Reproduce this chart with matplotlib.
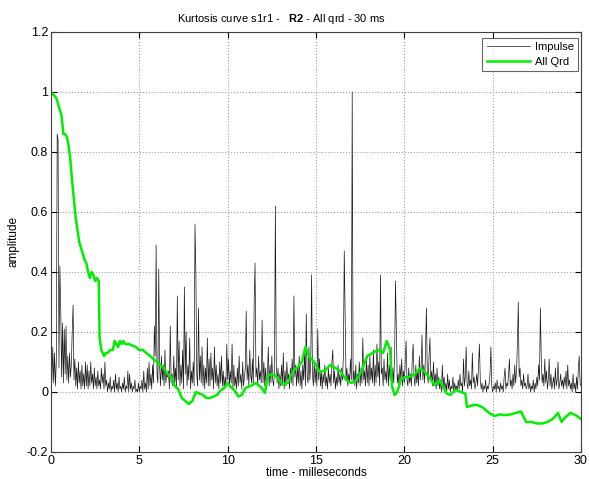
import numpy as np
import matplotlib
matplotlib.use("Agg")
import matplotlib.pyplot as plt

plt.rcParams['font.family'] = ['Liberation Sans', 'DejaVu Sans']
plt.rcParams['mathtext.fontset'] = 'custom'
plt.rcParams['mathtext.rm'] = 'Liberation Sans'
plt.rcParams['mathtext.bf'] = 'Liberation Sans:bold'

# Impulse amplitude in hundredths, sampled every 0.05 ms (one row per ms)
impulse_pct = [
    14, 4, 15, 3, 13, 2, 10, 86, 84, 8, 42, 28, 5, 23, 3, 21, 6, 22, 4, 12,
    3, 13, 5, 9, 20, 29, 4, 11, 2, 8, 1, 10, 3, 7, 1, 9, 2, 6, 1, 10,
    2, 9, 1, 7, 2, 10, 3, 6, 1, 8, 2, 5, 1, 7, 2, 4, 1, 8, 3, 6,
    1, 10, 2, 4, 0, 3, 1, 5, 0, 2, 1, 4, 0, 6, 1, 3, 0, 5, 1, 2,
    0, 3, 1, 5, 0, 2, 1, 7, 0, 6, 1, 3, 0, 2, 1, 4, 0, 1, 0, 3,
    0, 2, 1, 4, 0, 7, 1, 3, 0, 8, 1, 10, 2, 6, 1, 9, 3, 22, 12, 49,
    6, 3, 41, 8, 2, 12, 4, 9, 2, 14, 3, 6, 5, 7, 1, 22, 3, 6, 2, 12,
    3, 8, 1, 32, 4, 17, 2, 9, 3, 14, 1, 35, 6, 20, 2, 9, 4, 18, 1, 7,
    3, 10, 2, 56, 40, 6, 2, 28, 4, 12, 3, 15, 2, 9, 1, 8, 3, 18, 2, 11,
    2, 13, 4, 8, 1, 15, 3, 9, 2, 6, 1, 10, 3, 12, 2, 7, 1, 5, 2, 16,
    4, 11, 2, 7, 3, 16, 1, 9, 2, 5, 1, 8, 2, 12, 3, 6, 1, 10, 2, 5,
    8, 27, 4, 9, 2, 14, 6, 3, 11, 2, 30, 43, 5, 8, 2, 12, 4, 7, 3, 24,
    3, 10, 2, 8, 1, 6, 15, 2, 9, 3, 12, 4, 2, 7, 62, 10, 3, 8, 1, 6,
    2, 9, 3, 13, 1, 7, 2, 10, 4, 6, 1, 8, 3, 11, 2, 32, 5, 9, 2, 8,
    3, 12, 2, 7, 1, 9, 4, 14, 2, 26, 5, 3, 15, 4, 9, 39, 6, 2, 10, 3,
    8, 2, 21, 4, 11, 2, 7, 1, 6, 3, 9, 2, 5, 1, 8, 3, 6, 2, 10, 14,
    3, 7, 1, 5, 2, 9, 3, 6, 2, 8, 4, 12, 47, 25, 4, 8, 2, 6, 3, 11,
    4, 100, 3, 7, 2, 9, 1, 6, 3, 10, 2, 8, 3, 18, 4, 7, 2, 11, 3, 9,
    2, 12, 4, 8, 3, 14, 2, 9, 3, 16, 5, 10, 2, 39, 6, 8, 2, 11, 4, 7,
    3, 13, 2, 9, 4, 15, 2, 8, 3, 12, 37, 20, 3, 6, 2, 9, 4, 11, 2, 7,
    3, 10, 17, 4, 2, 8, 3, 6, 2, 11, 16, 5, 2, 9, 3, 7, 2, 12, 4, 8,
    19, 4, 9, 3, 14, 28, 6, 3, 12, 18, 4, 7, 2, 10, 3, 6, 1, 8, 2, 5,
    1, 4, 0, 9, 2, 5, 1, 3, 0, 6, 1, 4, 0, 2, 1, 5, 0, 3, 1, 2,
    0, 4, 1, 6, 2, 3, 0, 11, 2, 5, 15, 3, 1, 7, 2, 4, 1, 13, 3, 5,
    1, 3, 6, 2, 9, 16, 4, 1, 3, 0, 2, 1, 4, 0, 2, 1, 3, 6, 15, 2,
    0, 2, 1, 3, 0, 4, 1, 2, 0, 3, 1, 2, 0, 5, 8, 1, 3, 2, 6, 11,
    2, 4, 1, 6, 2, 9, 3, 7, 16, 30, 5, 8, 2, 4, 1, 6, 2, 3, 1, 2,
    6, 1, 3, 0, 2, 1, 4, 0, 3, 1, 5, 2, 9, 4, 28, 12, 3, 6, 2, 11,
    3, 7, 1, 4, 11, 2, 6, 1, 3, 5, 1, 8, 2, 4, 10, 1, 3, 6, 2, 4,
    1, 5, 2, 7, 1, 9, 2, 4, 1, 3, 0, 6, 1, 3, 0, 5, 1, 8, 12, 3,
    2,
]
impulse_step_ms = 0.05

# All Qrd curve (time in ms, amplitude)
qrd_t = [0, 0.15, 0.3, 0.45, 0.6, 0.7, 0.8, 0.9, 1.0, 1.1,
         1.2, 1.3, 1.4, 1.5, 1.6, 1.7, 1.8, 1.9, 2.0, 2.1,
         2.2, 2.3, 2.4, 2.5, 2.6, 2.7, 2.75, 2.85, 3.0, 3.1,
         3.2, 3.35, 3.5, 3.6, 3.7, 3.8, 3.9, 4.0, 4.1, 4.2,
         4.4, 4.6, 4.8, 5.0, 5.2, 5.4, 5.6, 5.8, 6.0, 6.2,
         6.4, 6.6, 6.8, 7.0, 7.2, 7.4, 7.6, 7.8, 8.0, 8.2,
         8.4, 8.6, 8.8, 9.0, 9.2, 9.4, 9.6, 9.8, 10.0, 10.2,
         10.4, 10.6, 10.8, 11.0, 11.3, 11.6, 11.9, 12.1, 12.3, 12.5,
         12.8, 13.1, 13.4, 13.7, 14.0, 14.2, 14.4, 14.6, 14.9, 15.2,
         15.5, 15.8, 16.1, 16.4, 16.7, 17.0, 17.3, 17.6, 17.9, 18.2,
         18.5, 18.8, 19.0, 19.2, 19.3, 19.45, 19.6, 19.8, 20.0, 20.3,
         20.6, 20.9, 21.1, 21.4, 21.7, 22.0, 22.2, 22.4, 22.6, 22.9,
         23.2, 23.45, 23.55, 23.8, 24.1, 24.4, 24.6, 24.8, 25.1, 25.4,
         25.7, 26.0, 26.3, 26.6, 26.9, 27.2, 27.5, 27.8, 28.1, 28.4,
         28.7, 28.9, 29.1, 29.4, 29.7, 30.0]
qrd_v = [1.0, 0.99, 0.98, 0.95, 0.92, 0.86, 0.86, 0.85, 0.82, 0.77,
         0.70, 0.64, 0.58, 0.54, 0.50, 0.48, 0.46, 0.44, 0.43, 0.40,
         0.38, 0.40, 0.39, 0.37, 0.38, 0.37, 0.18, 0.14, 0.12, 0.13,
         0.13, 0.14, 0.14, 0.17, 0.16, 0.15, 0.17, 0.16, 0.17, 0.16,
         0.16, 0.155, 0.15, 0.14, 0.14, 0.13, 0.12, 0.11, 0.10, 0.09,
         0.08, 0.06, 0.05, 0.02, 0.01, -0.02, -0.03, -0.04, -0.03, 0.0,
         -0.005, -0.01, -0.02, -0.02, -0.015, -0.01, 0.005, 0.013, 0.03, 0.015,
         0.005, -0.015, -0.01, 0.013, 0.02, 0.03, 0.015, -0.003, 0.055, 0.06,
         0.05, 0.025, 0.03, 0.07, 0.085, 0.10, 0.15, 0.12, 0.10, 0.068,
         0.07, 0.09, 0.08, 0.068, 0.04, 0.03, 0.04, 0.073, 0.12, 0.13,
         0.14, 0.13, 0.17, 0.14, 0.02, -0.01, 0.0, 0.04, 0.05, 0.05,
         0.06, 0.08, 0.07, 0.05, 0.023, 0.04, 0.015, -0.005, -0.01, 0.007,
         0.0, -0.005, -0.05, -0.045, -0.043, -0.05, -0.06, -0.07, -0.08, -0.075,
         -0.077, -0.075, -0.07, -0.065, -0.1, -0.1, -0.105, -0.105, -0.1, -0.09,
         -0.07, -0.1, -0.085, -0.07, -0.077, -0.09]

x_ticks = [0, 5, 10, 15, 20, 25, 30]
y_ticks = [-0.2, 0, 0.2, 0.4, 0.6, 0.8, 1, 1.2]
y_ticklabels = ['-0.2', '0', '0.2', '0.4', '0.6', '0.8', '1', '1.2']

impulse = np.array(impulse_pct) / 100.0
impulse_t = np.arange(len(impulse)) * impulse_step_ms

fig = plt.figure(figsize=(5.89, 4.79), dpi=100)
ax = fig.add_axes([0.0866, 0.0564, 0.8998, 0.8768])

ax.plot(impulse_t, impulse, color='#1a1a1a', linewidth=0.5, label='Impulse')
ax.plot(qrd_t, qrd_v, color='#00ee00', linewidth=1.8, label='All Qrd')

ax.set_xlim(0, 30)
ax.set_ylim(-0.2, 1.2)
ax.set_xticks(x_ticks)
ax.set_yticks(y_ticks)
ax.set_yticklabels(y_ticklabels)
ax.grid(True, linestyle=':', color='#a0a0a0', linewidth=0.8)
ax.tick_params(direction='in', top=True, right=True, length=4, labelsize=9, pad=2)
for s in ax.spines.values():
    s.set_color('#404040')
    s.set_linewidth(0.8)

ax.set_xlabel('time - milleseconds', fontsize=8.5, labelpad=0)
ax.set_ylabel('amplitude', fontsize=8.5, labelpad=5)
ax.set_title('Kurtosis curve s1r1 -   $\\mathbf{R2}$ - All qrd - 30 ms', fontsize=8, pad=7, x=0.434)

leg = ax.legend(loc='upper right', bbox_to_anchor=(0.9943, 0.9864), fontsize=8,
                frameon=True, fancybox=False, edgecolor='#404040', borderaxespad=0,
                handlelength=3.9, labelspacing=0.4, borderpad=0.4, handletextpad=0.4)
leg.get_frame().set_linewidth(0.8)

fig.savefig('out.png', dpi=100, facecolor='white')
